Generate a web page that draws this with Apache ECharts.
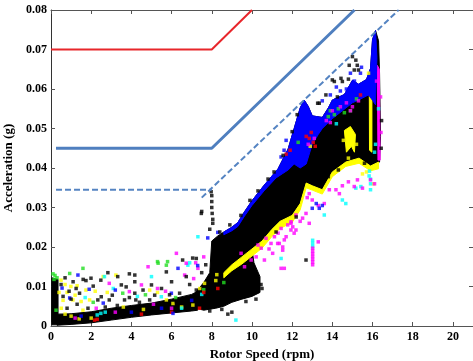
<!DOCTYPE html>
<html>
<head>
<meta charset="utf-8">
<script src="https://cdn.jsdelivr.net/npm/echarts@6/dist/echarts.min.js"></script>
<style>
html, body { margin: 0; padding: 0; background: #fff; }
#chart { width: 473px; height: 361px; }
</style>
</head>
<body>
<div id="chart"></div>
<script>
// 기준선 (limit lines)
var redLine = [[0, 0.07], [8, 0.07], [10, 0.08]]
var blueLine = [[0.25, 0.045], [8, 0.045], [15.1, 0.08]]
var dashFlat = [[0.25, 0.0345], [8, 0.0345]]
var dashSlope = [[7.5, 0.0325], [17.3, 0.08]]

// dense clouds, outlines
var lowBand = [[0.3, 0.003], [1, 0.0031], [2, 0.0036], [3, 0.0045], [4, 0.0052], [5, 0.0058], [6, 0.0068], [7, 0.008], [7.3, 0.0088],
  [7.3, 0.004], [7, 0.0038], [6, 0.0033], [5, 0.0028], [4, 0.0022], [3, 0.0015], [2, 0.0008], [1, 0.0004], [0.3, 0.0002]]
var leftColumn = [[0.04, 0.0003], [0.35, 0.0003], [0.35, 0.0118], [0.04, 0.0122]]
var blackCloud = [[7.2, 0.0085], [7.6, 0.011], [7.9, 0.0135], [8.0, 0.0215], [8.3, 0.0228], [8.6, 0.0238], [9.0, 0.025], [9.3, 0.0262],
  [9.6, 0.0287], [10.0, 0.0317], [10.6, 0.0356], [11.3, 0.0398], [11.8, 0.0448], [12.1, 0.05], [12.4, 0.0552], [12.6, 0.0572],
  [12.8, 0.0556], [13.0, 0.0532], [13.5, 0.0528], [13.8, 0.0552], [14.0, 0.0572], [14.6, 0.0586], [15.0, 0.0622], [15.3, 0.0612],
  [15.7, 0.0624], [15.9, 0.0652], [16.0, 0.0725], [16.15, 0.0748], [16.3, 0.0722], [16.35, 0.064],
  [16.4, 0.048], [16.35, 0.0415], [15.9, 0.0405], [15.33, 0.0425], [14.67, 0.0415], [14.0, 0.039], [13.5, 0.0345], [13.0, 0.0355],
  [12.7, 0.0362], [12.4, 0.031], [12.0, 0.028], [11.4, 0.0265], [11.0, 0.0245], [10.5, 0.0215], [10.0, 0.0195], [10.1, 0.016],
  [10.4, 0.0125], [10.4, 0.0085], [10.0, 0.0075], [9.5, 0.0068], [9.0, 0.006], [8.6, 0.005], [8.2, 0.0045], [7.6, 0.004], [7.2, 0.0045]]
var yellowStrip = [[8.6, 0.0135], [9.0, 0.0155], [9.5, 0.0175], [10.0, 0.0195], [10.5, 0.0215], [11.0, 0.0245], [11.4, 0.0265],
  [12.0, 0.028], [12.4, 0.031], [12.7, 0.0362], [13.0, 0.0355], [13.5, 0.0345], [14.0, 0.039], [14.67, 0.0415], [15.33, 0.0425],
  [15.9, 0.0405], [16.3, 0.0415],
  [16.3, 0.0398], [15.9, 0.0393], [15.33, 0.0412], [14.67, 0.0404], [14.0, 0.0378], [13.5, 0.0334], [13.0, 0.0344], [12.7, 0.035],
  [12.4, 0.0294], [12.0, 0.0262], [11.4, 0.0247], [11.0, 0.0227], [10.5, 0.0197], [10.0, 0.0177], [9.5, 0.0157], [9.0, 0.014], [8.6, 0.0122]]
var yellowPatch = [[14.6, 0.0495], [14.9, 0.0505], [15.15, 0.0485], [15.1, 0.044], [14.95, 0.0455], [14.7, 0.044]]
var yellowSpike = [[15.84, 0.06], [15.97, 0.061], [15.97, 0.044], [15.85, 0.0445]]
var magentaSpike = [[16.24, 0.066], [16.34, 0.065], [16.38, 0.042], [16.27, 0.042]]
var blueTop = [[8.6, 0.0238], [9.0, 0.025], [9.3, 0.0262], [9.6, 0.0287], [10.0, 0.0317], [10.6, 0.0356], [11.3, 0.0398],
  [11.8, 0.0448], [12.1, 0.05], [12.4, 0.0552], [12.6, 0.0572], [12.8, 0.0556], [13.0, 0.0532], [13.5, 0.0528], [13.8, 0.0552],
  [14.0, 0.0572], [14.6, 0.0586], [15.0, 0.0622], [15.3, 0.0612], [15.7, 0.0624], [15.9, 0.0652], [16.0, 0.0725], [16.15, 0.0748], [16.22, 0.068],
  [16.15, 0.056], [16.02, 0.057], [15.8, 0.0585], [15.3, 0.0572], [15.0, 0.0565], [14.5, 0.0545], [14.0, 0.0525], [13.5, 0.05],
  [13.3, 0.0485], [13.0, 0.046], [12.7, 0.041], [12.4, 0.04], [12.1, 0.041], [11.8, 0.0395], [11.5, 0.0385], [11.2, 0.0375],
  [10.6, 0.0342], [10.0, 0.0305], [9.6, 0.0276], [9.3, 0.0252], [9.0, 0.0241], [8.6, 0.0231]]

// scattered points by colour
var blackPts = [[0.5, 0.0105], [0.7, 0.0122], [0.9, 0.0088], [1.1, 0.0112], [1.25, 0.0095], [1.42, 0.0083], [1.6, 0.0118], [1.74, 0.0115],
  [1.99, 0.0121], [2.1, 0.0101], [2.33, 0.0066], [2.48, 0.0116], [2.5, 0.0074], [2.83, 0.0135], [2.9, 0.0066], [3.05, 0.0078],
  [3.32, 0.0125], [3.5, 0.0104], [3.66, 0.0066], [3.74, 0.0099], [3.9, 0.0132], [4.17, 0.0129], [4.17, 0.0112], [4.17, 0.0083],
  [4.22, 0.0066], [4.58, 0.0091], [5.0, 0.0104], [5.16, 0.0078], [4.91, 0.0066], [5.74, 0.0137], [6.24, 0.0062], [6.4, 0.0083],
  [6.73, 0.0125], [6.9, 0.0105], [7.05, 0.0172], [7.23, 0.0171], [7.23, 0.0091], [6.55, 0.0167], [1.84, 0.0045], [1.3, 0.0055],
  [0.8, 0.0045], [2.7, 0.0048], [3.3, 0.0052], [5.5, 0.0095], [6.0, 0.0112], [4.4, 0.006], [3.9, 0.0072], [1.0, 0.0068],
  [0.6, 0.0075], [5.9, 0.0079], [6.6, 0.0058], [7.5, 0.0135], [7.7, 0.0155],
  [7.48, 0.0285], [7.5, 0.029], [7.97, 0.034], [8.0, 0.033], [8.0, 0.0315], [8.0, 0.03], [8.02, 0.0285], [8.05, 0.027], [8.05, 0.026],
  [7.9, 0.0245], [15.17, 0.0673], [14.84, 0.066], [15.09, 0.0648], [14.43, 0.0627], [14.1, 0.0619], [14.5, 0.0619], [13.27, 0.0564],
  [13.68, 0.0585], [15.0, 0.0682], [15.24, 0.066], [14.0, 0.0623], [14.25, 0.058], [13.35, 0.0564], [14.8, 0.0625], [15.3, 0.0648],
  [12.69, 0.0167], [10.5, 0.0095], [9.0, 0.0035], [8.8, 0.003],
  [8.4, 0.0238], [8.9, 0.0256], [9.45, 0.028], [9.9, 0.0318], [10.3, 0.0342], [10.8, 0.0372], [11.1, 0.039], [11.55, 0.0432],
  [12.0, 0.0492], [12.25, 0.0535], [10.45, 0.0105], [10.2, 0.0068], [9.7, 0.0062], [8.5, 0.0042], [7.9, 0.0038],
  [11.2, 0.0238], [12.2, 0.0276], [13.8, 0.0378], [14.3, 0.0395], [15.6, 0.0412], [16.43, 0.045], [16.45, 0.052]]
var bluePts = [[0.55, 0.0096], [0.93, 0.0071], [1.34, 0.0129], [3.2, 0.0091], [1.9, 0.0093], [6.32, 0.0146], [5.99, 0.0083],
  [6.07, 0.0032], [5.5, 0.0045], [7.3, 0.0153], [4.0, 0.0035], [2.6, 0.0058], [1.5, 0.0025], [7.0, 0.0065],
  [7.8, 0.0223], [8.3, 0.0237], [14.9, 0.064], [15.1, 0.062], [15.2, 0.061], [14.7, 0.06], [14.4, 0.0595], [13.9, 0.0585],
  [13.5, 0.057], [15.4, 0.064], [15.45, 0.0655], [14.2, 0.0605], [13.0, 0.0298], [13.35, 0.0298], [13.2, 0.031], [13.5, 0.0305],
  [11.6, 0.0445], [11.45, 0.0428], [11.7, 0.047]]
var magentaPts = [[2.25, 0.0045], [3.9, 0.0087], [4.83, 0.015], [6.24, 0.0184], [6.73, 0.0159], [7.31, 0.0146], [6.65, 0.0129],
  [4.5, 0.0104], [5.3, 0.0095], [5.7, 0.0088], [5.1, 0.0055], [6.0, 0.0045], [7.2, 0.016], [7.6, 0.0175], [7.1, 0.012],
  [3.2, 0.0035], [1.2, 0.002], [2.9, 0.0108],
  [10.7, 0.0222], [11.12, 0.0226], [11.45, 0.0247], [11.78, 0.0256], [11.95, 0.0264], [10.95, 0.0209], [10.46, 0.0197],
  [10.21, 0.0175], [9.96, 0.0167], [11.28, 0.0209], [11.61, 0.0218], [11.94, 0.0243], [10.62, 0.0167], [11.03, 0.0184],
  [11.53, 0.0192], [10.3, 0.0205], [10.85, 0.0195], [11.3, 0.0235], [11.61, 0.0146], [9.46, 0.0184], [9.63, 0.015],
  [12.19, 0.0281], [12.52, 0.0273], [12.69, 0.0285], [12.85, 0.026], [11.94, 0.026], [12.19, 0.0243], [11.7, 0.0226],
  [11.45, 0.0146], [12.03, 0.0251], [11.53, 0.02], [11.36, 0.0209], [12.4, 0.0265], [12.1, 0.0235], [12.75, 0.0325],
  [12.85, 0.0335], [13.0, 0.0319], [13.3, 0.0305], [13.6, 0.031], [13.85, 0.0345], [14.18, 0.0345], [14.5, 0.0355],
  [14.35, 0.0335], [15.09, 0.0353], [15.5, 0.0349], [14.8, 0.0365], [15.25, 0.037],
  [13.02, 0.0155], [13.02, 0.0162], [13.02, 0.0169], [13.02, 0.0176], [13.02, 0.0183], [13.02, 0.019], [13.02, 0.0197], [13.3, 0.0213],
  [14.0, 0.0545], [14.4, 0.0555], [15.0, 0.0555], [15.3, 0.057], [14.7, 0.0565], [13.7, 0.052], [12.8, 0.046], [13.1, 0.0475],
  [15.9, 0.037], [16.1, 0.036], [16.4, 0.058], [16.42, 0.049], [16.2, 0.062], [14.9, 0.0545], [13.9, 0.0515]]
var yellowPts = [[0.5, 0.0116], [0.7, 0.0105], [0.99, 0.01], [1.3, 0.0102], [0.8, 0.0085], [1.09, 0.0066], [1.74, 0.0091],
  [1.92, 0.0066], [1.59, 0.004], [3.23, 0.0129], [2.8, 0.0085], [0.51, 0.0045], [0.7, 0.003], [1.0, 0.0025], [1.4, 0.0018],
  [2.0, 0.002], [4.91, 0.0091], [5.3, 0.0085], [5.74, 0.0066], [6.07, 0.0057], [7.06, 0.0053], [7.64, 0.0108], [7.4, 0.0095],
  [0.6, 0.0065], [1.2, 0.0078], [1.5, 0.0062], [2.2, 0.0088], [3.6, 0.0048], [4.6, 0.0042], [2.6, 0.0125], [0.4, 0.0085],
  [6.5, 0.0048], [8.25, 0.013], [8.2, 0.0115], [16.05, 0.036], [15.7, 0.039], [15.5, 0.0385], [14.55, 0.047], [15.2, 0.046],
  [14.8, 0.0425], [15.8, 0.064], [12.9, 0.0455]]
var cyanPts = [[2.66, 0.0125], [2.48, 0.0032], [2.7, 0.0035], [2.3, 0.0028], [5.0, 0.0125], [6.81, 0.0154], [5.49, 0.0074],
  [6.5, 0.0045], [6.9, 0.016], [7.31, 0.0226], [3.1, 0.0095], [1.7, 0.0072], [4.3, 0.0075], [7.5, 0.008],
  [9.2, 0.0015], [11.45, 0.0171], [13.02, 0.0201], [13.02, 0.0209], [13.02, 0.0217], [14.5, 0.0319], [14.67, 0.031],
  [15.17, 0.0349], [15.42, 0.0353], [13.6, 0.0281], [15.83, 0.038], [15.85, 0.0392], [15.9, 0.0345], [15.9, 0.036],
  [15.9, 0.0372], [16.1, 0.044], [16.15, 0.046], [16.3, 0.055], [14.2, 0.0512]]
var greenPts = [[0.93, 0.0133], [1.59, 0.0146], [3.57, 0.0083], [5.3, 0.0163], [5.8, 0.0163], [5.33, 0.0159], [5.74, 0.0154],
  [0.2, 0.0128], [0.1, 0.0132], [0.3, 0.0122], [0.15, 0.0118], [4.7, 0.0079], [6.2, 0.0072], [7.6, 0.0092], [2.1, 0.006],
  [0.25, 0.004], [8.6, 0.011], [13.8, 0.053], [14.1, 0.0535], [14.6, 0.054], [14.9, 0.0545], [13.9, 0.0545], [14.3, 0.055],
  [15.2, 0.0575], [12.3, 0.0465]]
var redPts = [[2.17, 0.0015], [2.3, 0.0017], [7.39, 0.0045], [6.0, 0.0035], [7.6, 0.0085], [12.7, 0.048], [12.85, 0.0475],
  [12.95, 0.049], [13.05, 0.0465], [13.15, 0.0455], [11.7, 0.0435], [11.9, 0.0445], [15.4, 0.0585], [8.3, 0.0095], [4.5, 0.003]]

var chart = echarts.init(document.getElementById('chart'))

function area(pts, color, z) {
  return {
    type: 'custom',
    coordinateSystem: 'cartesian2d',
    silent: true,
    z: z,
    data: [pts[0]],
    renderItem: function (params, api) {
      return {
        type: 'polygon',
        shape: { points: pts.map(function (p) { return api.coord(p) }) },
        style: { fill: color, stroke: color, lineWidth: 1 }
      }
    }
  }
}

function dots(pts, color) {
  return { type: 'scatter', data: pts, symbol: 'rect', symbolSize: 3.5, silent: true, z: 5, itemStyle: { color: color } }
}

function line(pts, color, width, dash) {
  return {
    type: 'line', data: pts, showSymbol: false, silent: true, z: 6,
    lineStyle: { color: color, width: width, type: dash || 'solid' }
  }
}

var font = 'Liberation Serif'
var axisGrey = '#555'

option = {
  animation: false,
  backgroundColor: '#fff',
  grid: { left: 51, right: 0, top: 10, bottom: 35, containLabel: false, outerBoundsMode: 'none' },
  xAxis: [
    {
      type: 'value', min: 0, max: 21, interval: 2,
      name: 'Rotor Speed (rpm)', nameLocation: 'middle', nameGap: 11,
      nameTextStyle: { fontFamily: font, fontWeight: 'bold', fontSize: 13, color: '#000' },
      axisLine: { onZero: false, lineStyle: { color: axisGrey } },
      axisTick: { inside: true, length: 4, lineStyle: { color: axisGrey } },
      axisLabel: { fontFamily: font, fontWeight: 'bold', fontSize: 12, color: '#000', margin: 5, showMaxLabel: false },
      splitLine: { show: false }
    },
    {
      type: 'value', position: 'top', min: 0, max: 21, interval: 2,
      axisLine: { onZero: false, lineStyle: { color: axisGrey } },
      axisTick: { inside: true, length: 4, lineStyle: { color: axisGrey } },
      axisLabel: { show: false },
      splitLine: { show: false }
    }
  ],
  yAxis: [
    {
      type: 'value', min: 0, max: 0.08, interval: 0.01,
      name: 'Acceleration (g)', nameLocation: 'middle', nameGap: 36,
      nameTextStyle: { fontFamily: font, fontWeight: 'bold', fontSize: 13, color: '#000' },
      axisLine: { show: true, onZero: false, lineStyle: { color: '#333' } },
      axisTick: { show: true, inside: true, length: 4, lineStyle: { color: axisGrey } },
      axisLabel: {
        fontFamily: font, fontWeight: 'bold', fontSize: 12, color: '#000', margin: 4,
        formatter: function (v) { return v === 0 ? '0' : v.toFixed(2) }
      },
      splitLine: { show: false }
    },
    {
      type: 'value', position: 'right', min: 0, max: 0.08, interval: 0.01,
      axisLine: { show: true, onZero: false, lineStyle: { color: axisGrey } },
      axisTick: { show: true, inside: true, length: 4, lineStyle: { color: axisGrey } },
      axisLabel: { show: false },
      splitLine: { show: false }
    }
  ],
  series: [
    area(lowBand, '#000', 2),
    area(leftColumn, '#000', 2),
    area(blackCloud, '#000', 2),
    area(yellowStrip, '#ffff00', 3),
    area(yellowPatch, '#ffff00', 3),
    area(yellowSpike, '#ffff00', 3),
    area(magentaSpike, '#ff00ff', 3),
    area(blueTop, '#0000ff', 4),
    dots(yellowPts, '#ffff00'),
    dots(greenPts, '#22dd22'),
    dots(cyanPts, '#00ffff'),
    dots(magentaPts, '#ff00ff'),
    dots(redPts, '#ff0000'),
    dots(bluePts, '#0000ff'),
    dots(blackPts, '#000'),
    line(redLine, '#e8262b', 2),
    line(blueLine, '#4f7fbf', 3),
    line(dashFlat, '#5584c2', 2, [6, 3]),
    line(dashSlope, '#5584c2', 2, [6, 3])
  ]
}

chart.setOption(option)
</script>
</body>
</html>
